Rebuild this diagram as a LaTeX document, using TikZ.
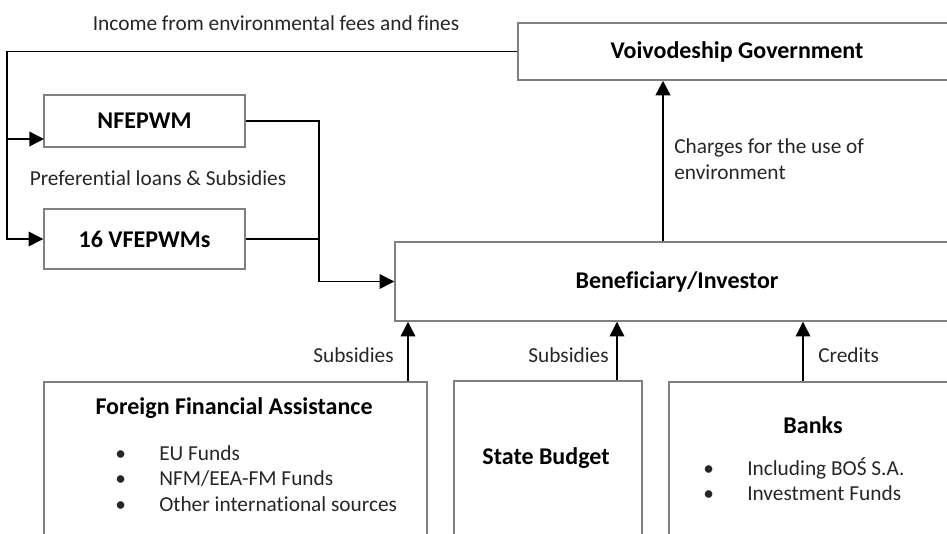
\documentclass[tikz,border=0pt]{standalone}
\usepackage{fontspec}
\setmainfont{Carlito}[Ligatures=NoCommon]
\usetikzlibrary{arrows.meta, positioning, calc}
\definecolor{boxgray}{RGB}{128,128,128}
\definecolor{txtgray}{RGB}{38,38,38}

\begin{document}
\begin{tikzpicture}[x=0.75pt, y=-0.75pt,
  every node/.style={font=\fontsize{16pt}{19.2pt}\selectfont, text=txtgray},
  box/.style={draw=boxgray, line width=1.1pt, rectangle, inner sep=0pt},
  head/.style={font=\fontsize{18pt}{21.6pt}\selectfont\bfseries, text=black},
  flow/.style={line width=1pt, -{Triangle[length=11pt, width=11pt]}},
  lbl/.style={inner sep=0pt}]
  \useasboundingbox (0,0) rectangle (947,533);
  \clip (0,0) rectangle (947,533);

  % boxes
  \node[box, head, minimum width=328.5pt, minimum height=42.75pt]
    (voiv) at (737,51.5) {Voivodeship Government};
  \node[box, head, minimum width=150.75pt, minimum height=39pt]
    (nfep) at (144.5,121) {NFEPWM};
  \node[box, head, minimum width=150.75pt, minimum height=45pt]
    (vfep) at (144.5,239) {16 VFEPWMs};
  \node[box, head, minimum width=423pt, minimum height=59.25pt]
    (benef) at (677,281.5) {Beneficiary/Investor};
  \node[box, minimum width=287.25pt, minimum height=148.5pt] (ffa) at (235.5,481) {};
  \node[box, minimum width=141pt, minimum height=149.25pt] (state) at (548,480.5) {};
  \node[box, minimum width=218.25pt, minimum height=148.5pt] (banks) at (814.5,481) {};

  % box contents
  \node[head, lbl] (ffatitle) at (234,408) {Foreign Financial Assistance};
  \node[lbl, anchor=west] (ffalist) at (115,480.5)
    {\begin{tabular}{@{}p{33pt}@{}l@{}}
      \textbullet & EU Funds\\
      \textbullet & NFM/EEA-FM Funds\\
      \textbullet & Other international sources
    \end{tabular}};
  \node[head, lbl] (statetitle) at (546,458) {State Budget};
  \node[head, lbl] (bankstitle) at (813,425) {Banks};
  \node[lbl, anchor=west] (bankslist) at (703,483)
    {\begin{tabular}{@{}p{33pt}@{}l@{}}
      \textbullet & Including BOŚ S.A.\\
      \textbullet & Investment Funds
    \end{tabular}};

  % flow labels
  \node[lbl] (income) at (276,23) {Income from environmental fees and fines};
  \node[lbl] (prefer) at (158,178) {Preferential loans \& Subsidies};
  \node[lbl, anchor=west, align=left] (charges) at (674,159)
    {Charges for the use of\\environment};

  % helper points
  \coordinate (rail) at (7,150);
  \coordinate (join) at (319,200);
  \coordinate (nfin) at (44,139);
  \coordinate (chg) at (663,0);

  % fund flows
  \draw[flow] (voiv.west) -| (rail) |- (vfep.west);
  \draw[flow] (rail |- nfin) -- (nfin);
  \draw[flow] (nfep.east) -| (join) |- (benef.west);
  \draw[line width=1pt] (vfep.east) -- (vfep.east -| join);
  \draw[flow, line width=1.8pt] (chg |- benef.north) -- (chg |- voiv.south);

  % sources to beneficiary
  \foreach \src/\xx/\txt/\side/\dx in {ffa/408/Subsidies/east/-14,
                                        state/617/Subsidies/east/-8,
                                        banks/803/Credits/west/15} {
    \coordinate (up-\src) at (\xx,0);
    \draw[flow] (\src.north -| up-\src) -- (benef.south -| up-\src);
    \node[lbl, anchor=\side] (lbl-\src) at ($(up-\src |- 0,355) + (\dx,0)$) {\txt};
  }
\end{tikzpicture}
\end{document}
